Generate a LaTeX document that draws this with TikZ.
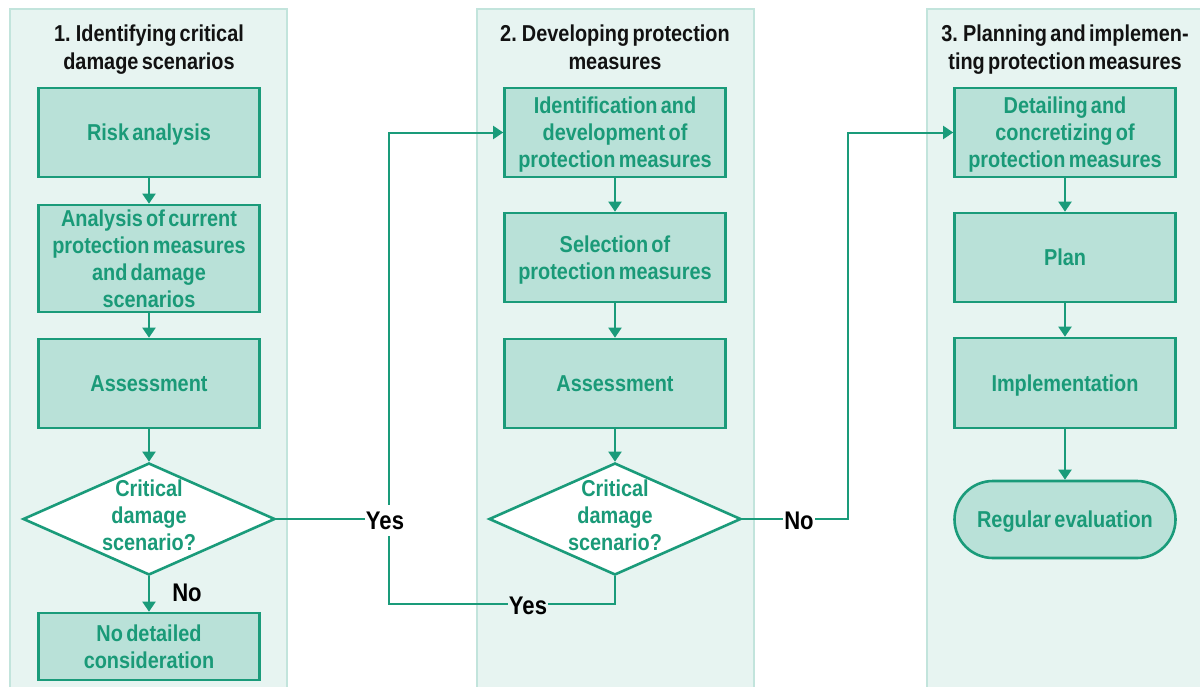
\documentclass[tikz,border=0pt]{standalone}
\usepackage{fontspec}
\setmainfont{Liberation Sans}[FakeStretch=0.865,WordSpace=0.6]
\usetikzlibrary{arrows.meta,shapes.geometric}
\definecolor{gstroke}{HTML}{1A9B7A}
\definecolor{gtext}{HTML}{1A9A78}
\definecolor{gfill}{HTML}{B9E1D8}
\definecolor{pfill}{HTML}{E7F4F1}
\definecolor{pline}{HTML}{C2E4DC}
\newcommand\bxfont{\bfseries\fontsize{23}{27}\selectfont}
\newcommand\ttfont{\bfseries\fontsize{23}{28}\selectfont}
\newcommand\lbfont{\bfseries\fontsize{25.5}{28}\selectfont}
\begin{document}
\begin{tikzpicture}[x=1pt,y=-1pt,
 panel/.style={fill=pfill, draw=pline, line width=1.2pt},
 box/.style={draw=gstroke, fill=gfill, line width=2.6pt, minimum width=221pt, align=center, text=gtext, font=\bxfont, inner sep=0pt, text depth=0pt},
 decision/.style={diamond, draw=gstroke, fill=white, line width=2.6pt, minimum width=252pt, minimum height=112pt, inner sep=0pt},
 dtext/.style={align=center, text=gtext, font=\bxfont, inner sep=0pt},
 title/.style={align=center, text=black!93, font=\ttfont, inner sep=0pt, anchor=north},
 conn/.style={draw=gstroke, line width=2pt},
 arr/.style={conn, -{Triangle[width=13pt,length=10pt]}},
 lab/.style={text=black, font=\lbfont, inner xsep=1pt, inner ysep=7pt}
]
\useasboundingbox (0,0) rectangle (1200,686);
\begin{scope}
\clip (0,0) rectangle (1200,686);
\path[panel] (10,9) rectangle (287,700);
\path[panel] (477,9) rectangle (754,700);
\path[panel] (927,9) rectangle (1210,700);
\end{scope}

% titles
\node[title] (t1) at (149,24.5) {1. Identifying critical\\damage scenarios};
\node[title] (t2) at (615,24.5) {2. Developing protection\\measures};
\node[title] (t3) at (1065,24.5) {3. Planning and implemen-\\ting protection measures};

% column 1
\node[box, minimum height=89pt] (a1) at (149,132.5) {Risk analysis};
\node[box, minimum height=107pt] (a2) at (149,258.5) {Analysis of current\\protection measures\\and damage\\scenarios};
\node[box, minimum height=89pt] (a3) at (149,383.5) {Assessment};
\node[decision] (d1) at (149,519) {};
\node[dtext] (d1t) at (149,515) {Critical\\damage\\scenario?};
\node[box, minimum height=67pt] (a4) at (149,646.5) {No detailed\\consideration};

% column 2
\node[box, minimum height=89pt] (b1) at (615,132.5) {Identification and\\development of\\protection measures};
\node[box, minimum height=89pt] (b2) at (615,257.5) {Selection of\\protection measures};
\node[box, minimum height=89pt] (b3) at (615,383.5) {Assessment};
\node[decision] (d2) at (615,519) {};
\node[dtext] (d2t) at (615,515) {Critical\\damage\\scenario?};

% column 3
\node[box, minimum height=89pt] (c1) at (1065,132.5) {Detailing and\\concretizing of\\protection measures};
\node[box, minimum height=89pt] (c2) at (1065,257.5) {Plan};
\node[box, minimum height=90pt] (c3) at (1065,383) {Implementation};
\node[box, minimum height=77pt, rounded corners=38.5pt] (c4) at (1065,519.5) {Regular evaluation};

% vertical arrows
\draw[arr] (a1) -- (a2);
\draw[arr] (a2) -- (a3);
\draw[arr] (a3) -- (d1);
\draw[arr] (d1) -- (a4);
\draw[arr] (b1) -- (b2);
\draw[arr] (b2) -- (b3);
\draw[arr] (b3) -- (d2);
\draw[arr] (c1) -- (c2);
\draw[arr] (c2) -- (c3);
\draw[arr] (c3) -- (c4);

% branches
\coordinate (j1) at (389,604);
\coordinate (j2) at (389,132.5);
\coordinate (j4) at (848,132.5);
\draw[conn] (d1.east) -- (d1.east -| j1);
\draw[arr] (d2.south) |- (j1) -- (j2) -- (b1.west);
\draw[arr] (d2.east) -| (j4) -- (c1.west);

% labels
\node[lab, fill=white] (y1) at (385,520.5) {Yes};
\node[lab, fill=pfill] (y2) at (528,606) {Yes};
\node[lab, fill=white] (n2) at (799,521) {No};
\node[lab] (n1) at (187,593) {No};
\end{tikzpicture}
\end{document}
